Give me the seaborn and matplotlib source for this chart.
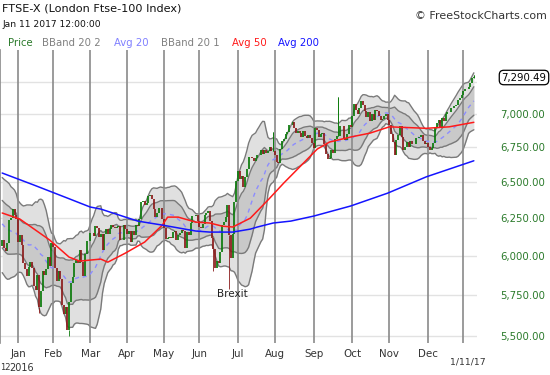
import numpy as np
import pandas as pd
import matplotlib
matplotlib.use("Agg")
import matplotlib.pyplot as plt
import seaborn as sns
from matplotlib.ticker import FixedLocator, NullLocator, FixedFormatter

# ---------------- data (FTSE-100 daily closes) ----------------
# closes before the visible window, only needed for the 20-day bands
history_close = [6278, 6329, 6334, 6305, 6277, 6337, 6393, 6375, 6356, 6395, 6420,
                 6275, 6238, 6223, 6136, 6126, 6088, 5952, 5874, 5960, 6061]

dec15 = [6102, 6052, 6034, 6083, 6240, 6254, 6314, 6274, 6242]
jan16 = [6093, 6137, 6073, 5954, 5912, 5871, 5929, 5961, 5918, 5804, 5779, 5876, 5673,
         5773, 5900, 5877, 5911, 5990, 5931, 6083]
feb16 = [6060, 5922, 5837, 5898, 5848, 5689, 5632, 5672, 5537, 5707, 5825, 5862, 5953,
         5971, 5950, 6037, 5962, 5867, 6013, 6096, 6097]
mar16 = [6153, 6147, 6130, 6199, 6183, 6126, 6146, 6036, 6140, 6174, 6140, 6175, 6201,
         6190, 6185, 6193, 6199, 6106, 6105, 6203, 6175]
apr16 = [6146, 6165, 6092, 6161, 6137, 6204, 6200, 6242, 6362, 6365, 6343, 6354, 6405,
         6410, 6381, 6310, 6260, 6285, 6319, 6322, 6242]
may16 = [6185, 6112, 6117, 6125, 6114, 6157, 6162, 6104, 6138, 6151, 6167, 6165, 6053,
         6156, 6136, 6219, 6262, 6265, 6270, 6231]
jun16 = [6191, 6185, 6209, 6273, 6285, 6301, 6231, 6116, 6044, 5923, 5966, 5950, 6022,
         6204, 6227, 6261, 6338, 6138, 5982, 6140, 6360, 6504]
jul16 = [6577, 6522, 6545, 6463, 6534, 6590, 6683, 6680, 6670, 6654, 6669, 6696, 6697,
         6728, 6699, 6731, 6710, 6724, 6750, 6721, 6724]
aug16 = [6694, 6646, 6634, 6740, 6793, 6809, 6851, 6866, 6914, 6916, 6941, 6893, 6859,
         6869, 6859, 6828, 6868, 6835, 6816, 6838, 6820, 6781]
sep16 = [6745, 6895, 6879, 6826, 6846, 6858, 6777, 6700, 6665, 6673, 6730, 6710, 6813,
         6830, 6834, 6911, 6910, 6818, 6807, 6850, 6919, 6899]
oct16 = [6983, 7074, 7033, 7000, 7044, 7097, 7070, 7024, 6977, 7014, 6947, 7000, 6954,
         7027, 7020, 6986, 6956, 6958, 6987, 6996, 6954]
nov16 = [6917, 6845, 6790, 6693, 6806, 6843, 6911, 6827, 6730, 6753, 6792, 6749, 6795,
         6775, 6778, 6819, 6817, 6829, 6840, 6799, 6772, 6784]
dec16 = [6752, 6730, 6746, 6779, 6902, 6931, 6954, 6890, 6969, 6949, 6999, 7011, 7017,
         7043, 7041, 7063, 7068, 7106, 7120, 7142]
jan17 = [7177, 7189, 7195, 7210, 7237, 7275, 7290]

month_closes = [dec15, jan16, feb16, mar16, apr16, may16, jun16, jul16, aug16, sep16,
                oct16, nov16, dec16, jan17]
month_labels = ["", "Jan", "Feb", "Mar", "Apr", "May", "Jun", "Jul", "Aug", "Sep",
                "Oct", "Nov", "Dec", ""]

# notable intraday wicks (bar index, extreme price)
wick_idx = [21, 38, 129, 120, 191, 154, 268]
wick_val = [5640, 5500, 5788, 5900, 7129, 6860, 7302]

# moving averages (bar index, value)
avg50_idx = [0, 10, 27, 38, 44, 56, 60, 70, 81, 91, 94, 100, 110, 118, 125, 131, 141,
             151, 160, 169, 179, 186, 198, 209, 220, 241, 254, 268]
avg50_val = [6285, 6244, 6103, 5991, 5965, 5978, 5958, 6017, 6090, 6203, 6257, 6257,
             6223, 6217, 6196, 6190, 6250, 6374, 6493, 6607, 6737, 6789, 6826, 6855,
             6902, 6891, 6902, 6936]
avg200_idx = [0, 18, 37, 50, 56, 77, 91, 110, 118, 131, 141, 145, 154, 164, 177, 198,
              219, 241, 268]
avg200_val = [6564, 6479, 6388, 6326, 6312, 6230, 6203, 6163, 6156, 6156, 6176, 6190,
              6217, 6230, 6264, 6333, 6422, 6537, 6652]

ytick_vals = [5500, 5750, 6000, 6250, 6500, 6750, 7000, 7250]
last_price_label = "7,290.49"

# ---------------- derived ----------------
close = np.concatenate([np.array(m, float) for m in month_closes])
n = len(close)
idx = np.arange(n)
starts = np.cumsum([0] + [len(m) for m in month_closes])[:-1]
opens = np.concatenate([[history_close[-1]], close[:-1]])

full = pd.Series(list(history_close) + list(close), dtype=float)
m20 = full.rolling(20).mean().to_numpy()[len(history_close):]
s20 = full.rolling(20).std(ddof=0).to_numpy()[len(history_close):]

# ---------------- figure ----------------
sns.set_theme(style="white")
plt.rcParams['font.family'] = ['DejaVu Sans']

W, H = 550, 375
fig = plt.figure(figsize=(5.5, 3.75), dpi=100)
ax = fig.add_axes([0, 32 / H, 477 / W, 293 / H])
ax.set_yscale('log')
ax.set_ylim(5457, 7503)
ax.set_xlim(-1.25, 269.8)

# horizontal grid
for v in ytick_vals:
    ax.axhline(v, color='#e2e2e2', lw=1.0, zorder=0)

# bands
ax.fill_between(idx, m20 - 2 * s20, m20 + 2 * s20, color='#e0e0e0', lw=0, zorder=1)
ax.fill_between(idx, m20 - s20, m20 + s20, color='#c9c9c9', lw=0, zorder=1.1)
for band in (m20 + 2 * s20, m20 - 2 * s20, m20 + s20, m20 - s20):
    ax.plot(idx, band, color='#7a7a7a', lw=1.0, zorder=1.5)

# month lines
for s in starts[1:]:
    ax.axvline(s, color='#8a8a8a', lw=1.2, zorder=2)

ax.plot(idx, m20, color='#8c8cff', lw=1.0, ls=(0, (3, 3)), zorder=2.5)

# candles
up = close >= opens
dn = ~up
ax.vlines(wick_idx, [min(opens[i], close[i]) for i in wick_idx], wick_val,
          color=['#0b7a0b' if up[i] else '#8b1a1a' for i in wick_idx], lw=0.6, zorder=3)
ax.vlines(wick_idx, [max(opens[i], close[i]) for i in wick_idx],
          [max(opens[i], close[i]) if wick_val[k] < close[i] else wick_val[k]
           for k, i in enumerate(wick_idx)],
          color='#0b7a0b', lw=0.6, zorder=3)
ax.vlines(idx[up], opens[up], close[up], color='#0b7a0b', lw=1.25, zorder=3.2)
ax.vlines(idx[dn], opens[dn], close[dn], color='#8b1a1a', lw=1.25, zorder=3.2)

# moving averages
sns.lineplot(x=avg50_idx, y=avg50_val, ax=ax, color='#ff1a1a', lw=1.1, zorder=5)
sns.lineplot(x=avg200_idx, y=avg200_val, ax=ax, color='#1414ff', lw=1.1, zorder=5)

# axes styling
ax.yaxis.set_major_locator(FixedLocator(ytick_vals))
ax.yaxis.set_minor_locator(NullLocator())
ax.yaxis.set_major_formatter(FixedFormatter(
    [f"{v:,.2f}" if v != 7250 else "" for v in ytick_vals]))
ax.yaxis.tick_right()
ax.tick_params(axis='y', length=0, pad=16.5, labelsize=7.3, labelcolor='#2a7a2a')
ax.set_xticks(starts[1:13])
ax.set_xticklabels(month_labels[1:13])
ax.tick_params(axis='x', length=0, pad=4.0, labelsize=7.4, labelcolor='#333333')
ax.set_xlabel("")
ax.set_ylabel("")
for sp in ('top', 'right', 'bottom'):
    ax.spines[sp].set_visible(False)
ax.spines['left'].set_color('#8a8a8a')
ax.spines['left'].set_linewidth(1.2)

# Brexit annotation
ax.text(130.6, 5756, "Brexit", ha='center', va='center', fontsize=7.5, color='#222222',
        zorder=6)

def fx(px):
    return px / W

def fy(py):
    return 1 - py / H

fig.text(fx(2), fy(8.5), "FTSE-X (London Ftse-100 Index)", fontsize=8.1,
         color='#111111', va='center', ha='left')
fig.text(fx(2), fy(24.5), "Jan 11 2017 12:00:00", fontsize=6.6, color='#111111',
         va='center', ha='left')
fig.text(fx(415), fy(15.7), "\u00a9 FreeStockCharts.com", fontsize=7.9, color='#333333',
         va='center', ha='left')

legend_items = [("Price", 8.3, '#2a7a2a'), ("BBand 20 2", 42.3, '#808080'),
                ("Avg 20", 114.3, '#8080ff'), ("BBand 20 1", 160.7, '#808080'),
                ("Avg 50", 232.3, '#ff1a1a'), ("Avg 200", 277.7, '#1414ff')]
for txt, px, col in legend_items:
    fig.text(fx(px), fy(43), txt, fontsize=7.3, color=col, va='center', ha='left')

fig.text(fx(524), fy(77.5), last_price_label, fontsize=7.3, color='black', ha='center',
         va='center',
         bbox=dict(boxstyle='round,pad=0.22,rounding_size=0.45', fc='white',
                   ec='black', lw=0.9))
fig.text(fx(468), fy(362), "1/11/17", fontsize=6.7, color='#333333', ha='center',
         va='center')
fig.text(fx(0), fy(368), "12", fontsize=6.0, color='#333333', ha='left', va='center')
fig.text(fx(9), fy(368), "2016", fontsize=7.0, color='#333333', ha='left', va='center')

fig.savefig("out.png", dpi=100)
